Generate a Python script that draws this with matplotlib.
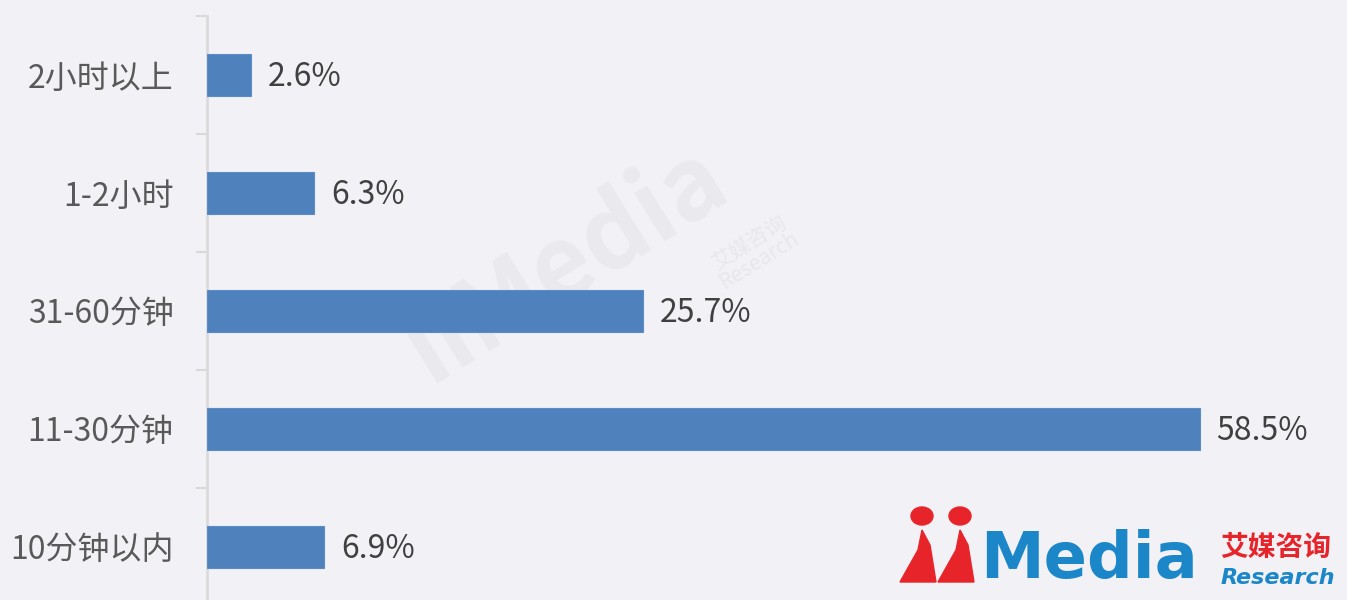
import matplotlib
matplotlib.use("Agg")
import matplotlib.pyplot as plt
from matplotlib.patches import Ellipse, Polygon

plt.rcParams['font.family'] = ['Noto Sans CJK SC', 'DejaVu Sans']

categories = ["10分钟以内", "11-30分钟", "31-60分钟", "1-2小时", "2小时以上"]
values = [6.9, 58.5, 25.7, 6.3, 2.6]
value_labels = ["6.9%", "58.5%", "25.7%", "6.3%", "2.6%"]

bg = "#F2F1F5"
bar_color = "#4F81BD"

fig = plt.figure(figsize=(13.47, 6.0), dpi=100, facecolor=bg)
ax = fig.add_axes([207/1347, -6/600, 1018/1347, 590/600], facecolor=bg)

# faint watermark (behind everything)
fig.text(0.42, 0.56, "iiMedia", fontsize=72, fontweight="bold", color="#EAE9ED",
         rotation=32, ha="center", va="center", zorder=0)
fig.text(0.56, 0.58, "艾媒咨询\nResearch", fontsize=15, color="#E8E7EB",
         rotation=32, ha="center", va="center", zorder=0, linespacing=0.9)
ax.set_zorder(1)
ax.patch.set_alpha(0)

y = list(range(len(categories)))
ax.barh(y, values, height=0.36, color=bar_color, edgecolor="#5B8CC6", linewidth=0.8, zorder=3)
for yi, v, lab in zip(y, values, value_labels):
    ax.text(v + 1.0, yi - 0.02, lab, va="center", ha="left", fontsize=23, color="#404040", zorder=4)

ax.set_xlim(0, 60)
ax.set_ylim(-0.5, len(categories) - 0.5)
ax.set_yticks(y)
ax.set_yticklabels(categories, fontsize=23, color="#595959")
ax.tick_params(axis="y", which="major", length=0, pad=24)
ax.set_yticks([i - 0.5 for i in range(len(categories) + 1)], minor=True)
ax.tick_params(axis="y", which="minor", length=8, width=1.5, color="#D9D9D9")
ax.set_xticks([])
for s in ["top", "right", "bottom"]:
    ax.spines[s].set_visible(False)
ax.spines["left"].set_color("#D9D9D9")
ax.spines["left"].set_linewidth(1.8)

# logo bottom right
W, H = 1347, 600
def fx(px):
    return px / W
def fy(py):
    return 1 - py / H

red = "#E8242B"
blue = "#1B86C8"
for cx in (922, 960):
    fig.patches.append(Ellipse((fx(cx), fy(516)), 22/W, 18/H, transform=fig.transFigure,
                               color=red, zorder=5))
for x0 in (900, 938):
    pts = [(fx(x0), fy(582)), (fx(x0 + 18), fy(550)), (fx(x0 + 22), fy(530)),
           (fx(x0 + 30), fy(545)), (fx(x0 + 36), fy(582))]
    fig.patches.append(Polygon(pts, closed=True, transform=fig.transFigure, color=red, zorder=5))
fig.text(fx(980), fy(560), "Media", fontsize=46, fontweight="heavy", color=blue,
         family=["DejaVu Sans"], ha="left", va="center", zorder=5)
fig.text(fx(1220), fy(548), "艾媒咨询", fontsize=20, fontweight="bold", color=red,
         ha="left", va="center", zorder=5)
fig.text(fx(1221), fy(578), "Research", fontsize=16, fontweight="bold", style="italic",
         color=blue, family=["DejaVu Sans"], ha="left", va="center", zorder=5)

fig.savefig("out.png", dpi=100, facecolor=bg)
